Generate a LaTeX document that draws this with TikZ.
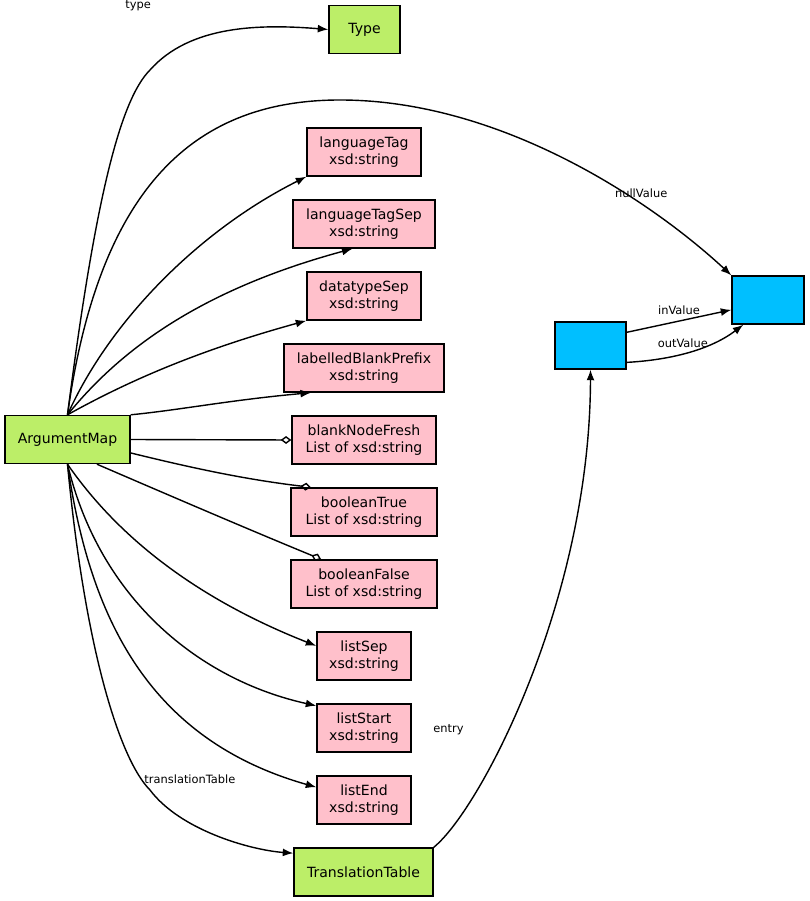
\documentclass[tikz,border=0pt]{standalone}
\usepackage{fontspec}
\setmainfont{DejaVu Sans}
\usetikzlibrary{arrows.meta}
\definecolor{classgreen}{HTML}{BCEE68}
\definecolor{litpink}{HTML}{FFC0CB}
\definecolor{refblue}{HTML}{00BFFF}
\tikzset{
  box/.style={draw, thick, inner sep=0pt, align=center, font=\fontsize{8}{9.5}\selectfont, minimum height=48*0.02cm},
  cls/.style={box, fill=classgreen},
  lit/.style={box, fill=litpink},
  ref/.style={box, fill=refblue},
  link/.style={-{Latex[length=6pt,width=4.5pt]}, thick},
  coll/.style={-{Diamond[open,length=6pt,width=4.5pt]}, thick},
  lab/.style={font=\fontsize{6.5}{7}\selectfont}
}
\begin{document}
\begin{tikzpicture}[x=0.02cm,y=-0.02cm]
	\useasboundingbox (0,0) rectangle (809,901);
	% Clases
		\node[cls, minimum width=71*0.02cm] (type) at (364.5,29.5) {Type};
		\node[cls, minimum width=125*0.02cm] (am) at (67.5,439.5) {ArgumentMap};
		\node[cls, minimum width=139*0.02cm] (tt) at (363.5,872) {TranslationTable};
	% Literales
		\node[lit, minimum width=114*0.02cm] (lt) at (364,152) {languageTag\\xsd:string};
		\node[lit, minimum width=142*0.02cm] (lts) at (364,224) {languageTagSep\\xsd:string};
		\node[lit, minimum width=114*0.02cm] (dts) at (364,296) {datatypeSep\\xsd:string};
		\node[lit, minimum width=160*0.02cm] (lbp) at (364,368) {labelledBlankPrefix\\xsd:string};
		\node[lit, minimum width=144*0.02cm] (bnf) at (364,440) {blankNodeFresh\\List of xsd:string};
		\node[lit, minimum width=146*0.02cm] (bt) at (364,512) {booleanTrue\\List of xsd:string};
		\node[lit, minimum width=146*0.02cm] (bf) at (364,584) {booleanFalse\\List of xsd:string};
		\node[lit, minimum width=94*0.02cm] (ls) at (364,656) {listSep\\xsd:string};
		\node[lit, minimum width=94*0.02cm] (lst) at (364,728) {listStart\\xsd:string};
		\node[lit, minimum width=94*0.02cm] (le) at (364,800) {listEnd\\xsd:string};
	% Referencias
		\node[ref, minimum width=71*0.02cm, minimum height=47*0.02cm] (entrynode) at (590.5,345.5) {};
		\node[ref, minimum width=72*0.02cm] (valnode) at (768,300) {};
	% Aristas superiores
		\draw[link] (am.north) .. controls (95,200) and (120,100) .. (150,70) .. controls (190,25) and (260,24) .. (type.west) node[lab, pos=0.93, above=6pt, xshift=-100] {type};
		\draw[link] (am.north) .. controls (100,180) and (200,100) .. (340,100) .. controls (500,100) and (650,200) .. (valnode.north west) node[lab, pos=0.7, above] {nullValue};
		\draw[link] (am.north) .. controls (110,320) and (200,230) .. (lt.south west);
		\draw[link] (am.north) .. controls (120,350) and (200,290) .. (lts.-115);
		\draw[link] (am.north) .. controls (130,380) and (200,350) .. (dts.south west);
		\draw[link] (am.north east) .. controls (180,410) and (230,400) .. (lbp.-155);
	% Aristas con diamante
		\draw[coll] (am.east) -- (bnf.west);
		\draw[coll] (am.-12) .. controls (200,470) and (250,480) .. (bt.155);
		\draw[coll] (am.-40) .. controls (180,500) and (250,530) .. (bf.150);
	% Aristas inferiores
		\draw[link] (am.south) .. controls (120,540) and (200,600) .. (ls.168);
		\draw[link] (am.south) .. controls (100,600) and (200,680) .. (lst.155);
		\draw[link] (am.south) .. controls (90,620) and (150,740) .. (le.165);
		\draw[link] (am.south) .. controls (85,650) and (120,760) .. (150,790) .. controls (180,830) and (250,850) .. (tt.165) node[lab, pos=0.05, above=3pt, xshift=20] {translationTable};
	% Tabla de traducción
		\draw[link] (tt.north east) .. controls (480,810) and (590,600) .. (entrynode.south) node[lab, pos=0.4, left=22pt] {entry};
		\draw[link] (entrynode.20) -- (valnode.-165) node[lab, midway, above] {inValue};
		\draw[link] (entrynode.-25) .. controls (670,360) and (710,350) .. (valnode.-135) node[lab, pos=0.45, above] {outValue};
\end{tikzpicture}
\end{document}
